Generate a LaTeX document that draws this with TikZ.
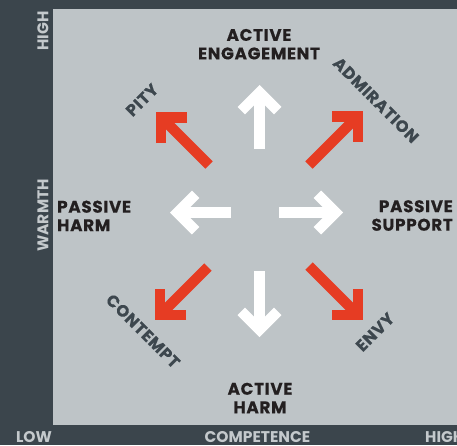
\documentclass[tikz,border=0pt]{standalone}
\usepackage{fontspec}
\setmainfont{Poppins}
\newfontfamily\widefont{Poppins}[LetterSpace=4, FakeBold=0.4]
\usetikzlibrary{calc}
\definecolor{bgdark}{RGB}{59,69,76}
\definecolor{panel}{RGB}{190,196,199}
\definecolor{arrowred}{RGB}{230,60,35}
\definecolor{labeldark}{RGB}{61,71,78}
\definecolor{textblack}{RGB}{35,31,32}
\definecolor{axistext}{RGB}{196,201,204}
\newcommand\fatarrow[3]{%
  \draw[#1, line width=10.5pt, line cap=butt] ($(#3)!7.42pt!(#2)$) -- (#2);
  \draw[#1, line width=10.5pt, line cap=butt, line join=miter]
    ($($(#3)!7.42pt!(#2)$)!25.75pt!135:(#3)$) --
    ($(#3)!7.42pt!(#2)$) --
    ($($(#3)!7.42pt!(#2)$)!25.75pt!-135:(#3)$);
}
\begin{document}
\begin{tikzpicture}[x=1pt,y=-1pt,
  quad/.style={font=\widefont\bfseries\fontsize{16.8}{18.5}\selectfont, text=textblack, inner sep=0pt},
  diag/.style={font=\widefont\bfseries\fontsize{16.5}{18}\selectfont, text=labeldark, inner sep=0pt},
  axis/.style={font=\bfseries\fontsize{15.5}{18}\selectfont, text=axistext, inner sep=0pt}]
\useasboundingbox (0,0) rectangle (457,445);
\fill[bgdark] (0,0) rectangle (457,445);
\fill[panel] (53,9) rectangle (457,424.5);
% axis labels
\node[axis, rotate=90] (hiW) at (43,31) {HIGH};
\node[axis, rotate=90] (warmth) at (43,215.5) {WARMTH};
\node[axis] (low) at (34,437) {LOW};
\node[axis] (comp) at (257.5,437) {COMPETENCE};
\node[axis, anchor=west] (hiC) at (425,437) {HIGH};
% quadrant texts
\node[quad, align=center] (ae) at (259,44.2) {ACTIVE\\ENGAGEMENT};
\node[quad, align=left, anchor=west] (ph) at (57,215.9) {PASSIVE\\HARM};
\node[quad, align=right, anchor=east] (ps) at (453,215.5) {PASSIVE\\SUPPORT};
\node[quad, align=center] (ah) at (260,398) {ACTIVE\\HARM};
% diagonal labels
\node[diag, rotate=45] (pity) at (142,100) {PITY};
\node[diag, rotate=-45] (adm) at (376,100) {ADMIRATION};
\node[diag, rotate=-45] (cont) at (143,331) {CONTEMPT};
\node[diag, rotate=45] (envy) at (375,332) {ENVY};
% arrow coordinates
\coordinate (upT) at (259.5,85);   \coordinate (upB) at (259.5,149);
\coordinate (dnT) at (259.5,337);  \coordinate (dnB) at (259.5,271);
\coordinate (lfT) at (170,212.5);  \coordinate (lfB) at (231,212.5);
\coordinate (rtT) at (343,212.5);  \coordinate (rtB) at (279,212.5);
\coordinate (ulT) at (156,112);    \coordinate (ulB) at (209,165);
\coordinate (urT) at (363,111);    \coordinate (urB) at (309,165);
\coordinate (llT) at (155,320);    \coordinate (llB) at (208,267);
\coordinate (lrT) at (363,320);    \coordinate (lrB) at (309,266);
\fatarrow{white}{upB}{upT}
\fatarrow{white}{dnB}{dnT}
\fatarrow{white}{lfB}{lfT}
\fatarrow{white}{rtB}{rtT}
\fatarrow{arrowred}{ulB}{ulT}
\fatarrow{arrowred}{urB}{urT}
\fatarrow{arrowred}{llB}{llT}
\fatarrow{arrowred}{lrB}{lrT}
\end{tikzpicture}
\end{document}
